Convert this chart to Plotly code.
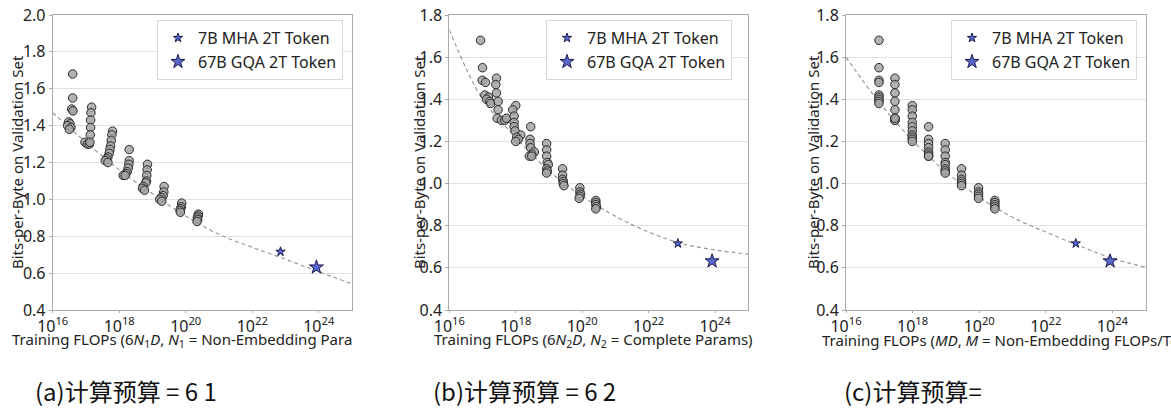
import numpy as np
import plotly.graph_objects as go

W, H = 1171, 412

# ---------------- data ----------------
# Bits-per-byte values of the small-scale runs, grouped by compute budget
bpb_groups = [
    [1.68, 1.55, 1.49, 1.48, 1.42, 1.41, 1.40, 1.39, 1.38],
    [1.50, 1.47, 1.43, 1.39, 1.35, 1.31, 1.30, 1.30, 1.31],
    [1.37, 1.35, 1.32, 1.29, 1.27, 1.25, 1.23, 1.22, 1.21, 1.20],
    [1.27, 1.21, 1.19, 1.17, 1.15, 1.14, 1.13, 1.13],
    [1.19, 1.16, 1.13, 1.10, 1.09, 1.07, 1.06, 1.05],
    [1.07, 1.04, 1.02, 1.01, 1.00, 0.99],
    [0.98, 0.96, 0.95, 0.94, 0.93],
    [0.92, 0.91, 0.90, 0.89, 0.88],
]

# log10 of training FLOPs for each run, panel (a): 6 N1 D
p1_log10_flops = [
    [16.60, 16.60, 16.57, 16.61, 16.48, 16.52, 16.45, 16.55, 16.50],
    [17.17, 17.15, 17.14, 17.14, 17.13, 16.97, 17.04, 17.10, 17.12],
    [17.80, 17.78, 17.76, 17.74, 17.72, 17.70, 17.66, 17.62, 17.58, 17.66],
    [18.30, 18.30, 18.29, 18.27, 18.24, 18.20, 18.12, 18.18],
    [18.85, 18.84, 18.83, 18.82, 18.80, 18.72, 18.70, 18.76],
    [19.35, 19.34, 19.32, 19.26, 19.22, 19.28],
    [19.88, 19.87, 19.85, 19.83, 19.84],
    [20.38, 20.37, 20.35, 20.36, 20.34],
]
# panel (b): 6 N2 D
p2_log10_flops = [
    [16.94, 17.00, 16.99, 17.09, 17.07, 17.18, 17.12, 17.22, 17.25],
    [17.42, 17.40, 17.42, 17.47, 17.47, 17.44, 17.57, 17.67, 17.72],
    [18.00, 17.91, 17.95, 17.95, 17.95, 17.98, 18.15, 18.03, 18.08, 18.00],
    [18.45, 18.43, 18.43, 18.45, 18.56, 18.48, 18.41, 18.48],
    [18.93, 18.93, 18.93, 18.95, 18.98, 18.93, 18.95, 18.93],
    [19.41, 19.41, 19.41, 19.43, 19.43, 19.45],
    [19.93, 19.93, 19.95, 19.93, 19.91],
    [20.41, 20.41, 20.41, 20.43, 20.41],
]
# panel (c): M D  (one budget per group)
p3_log10_flops = [16.99, 17.47, 17.99, 18.48, 18.98, 19.47, 19.98, 20.47]

# fitted scaling curves (read at each decade)
curve_log10_flops = [16, 17, 18, 19, 20, 21, 22, 23, 24, 25]
p1_curve_bpb = [1.47, 1.31, 1.16, 1.03, 0.91, 0.81, 0.74, 0.675, 0.608, 0.541]
p2_curve_bpb = [1.73, 1.40, 1.22, 1.06, 0.94, 0.845, 0.77, 0.715, 0.685, 0.665]
p3_curve_bpb = [1.60, 1.385, 1.205, 1.055, 0.935, 0.84, 0.77, 0.705, 0.645, 0.603]

# large models
star_labels = ["7B MHA 2T Token", "67B GQA 2T Token"]
star_bpb = [0.716, 0.632]
p1_star_log10 = [22.85, 23.93]
p2_star_log10 = [22.88, 23.91]
p3_star_log10 = [22.90, 23.93]

x_tick_exps = [16, 18, 20, 22, 24]

x_titles = [
    "Training FLOPs (6<i>N</i><sub>1</sub><i>D</i>, <i>N</i><sub>1</sub> = Non-Embedding Para",
    "Training FLOPs (6<i>N</i><sub>2</sub><i>D</i>, <i>N</i><sub>2</sub> = Complete Params)",
    "Training FLOPs (<i>MD</i>, <i>M</i> = Non-Embedding FLOPs/To",
]
y_title = "Bits-per-Byte on Validation Set"
captions = ["(a)计算预算 = 6 1", "(b)计算预算 = 6 2", "(c)计算预算="]

# ---------------- layout geometry (pixels) ----------------
panels_px = [(52.7, 352.0), (449.3, 748.3), (846.0, 1145.7)]
plot_top, plot_bottom = 15, 310
y_ranges = [[0.4, 2.0], [0.4, 1.8], [0.4, 1.8]]
legend_right = [343, 732, 1137]
ytitle_x = [17, 419, 813]
xtitle_x = [10, 432, 820]
caption_x = [33, 431, 842]

FONT = "Noto Sans"
fig = go.Figure()

p_x_all = [
    [x for g in p1_log10_flops for x in g],
    [x for g in p2_log10_flops for x in g],
    [p3_log10_flops[i] for i, g in enumerate(bpb_groups) for _ in g],
]
y_all = [y for g in bpb_groups for y in g]
curves = [p1_curve_bpb, p2_curve_bpb, p3_curve_bpb]
stars = [p1_star_log10, p2_star_log10, p3_star_log10]
legend_names = ["legend", "legend2", "legend3"]

for i in range(3):
    xa = "x" if i == 0 else f"x{i+1}"
    ya = "y" if i == 0 else f"y{i+1}"
    fig.add_trace(go.Scatter(
        x=np.power(10.0, np.array(curve_log10_flops, dtype=float)), y=curves[i],
        mode="lines", line=dict(color="#9a9a9a", width=1.2, dash="4px,3px", shape="spline"),
        xaxis=xa, yaxis=ya, showlegend=False, hoverinfo="skip"))
    fig.add_trace(go.Scatter(
        x=np.power(10.0, np.array(p_x_all[i], dtype=float)), y=y_all, mode="markers",
        marker=dict(size=8.5, color="rgba(165,165,165,0.85)",
                    line=dict(color="#2a2a2a", width=1)),
        xaxis=xa, yaxis=ya, showlegend=False))
    for k, (lab, sz) in enumerate(zip(star_labels, [7, 10.5])):
        fig.add_trace(go.Scatter(
            x=[float(10.0 ** stars[i][k])], y=[star_bpb[k]], mode="markers", name=lab,
            marker=dict(symbol="star", size=sz, color="rgba(70,85,200,0.9)",
                        line=dict(color="#1c1c50", width=1)),
            xaxis=xa, yaxis=ya, legend=legend_names[i], showlegend=True))

layout = dict(
    width=W, height=H, margin=dict(l=0, r=0, t=0, b=0, autoexpand=False),
    paper_bgcolor="white", plot_bgcolor="white",
    font=dict(family=FONT, size=14, color="#222222"),
    annotations=[], showlegend=True,
)

for i in range(3):
    x0, x1 = panels_px[i]
    xk = "xaxis" if i == 0 else f"xaxis{i+1}"
    yk = "yaxis" if i == 0 else f"yaxis{i+1}"
    ya = "y" if i == 0 else f"y{i+1}"
    xa = "x" if i == 0 else f"x{i+1}"
    layout[xk] = dict(
        type="log", range=[16, 25], domain=[x0 / W, x1 / W], anchor=ya,
        automargin=False,
        tickvals=[float(10.0 ** e) for e in x_tick_exps],
        ticktext=[f"10<sup>{e}</sup>" for e in x_tick_exps],
        showgrid=False, zeroline=False, showline=True, mirror=True,
        linecolor="#aaaaaa", linewidth=1, ticks="outside", ticklen=2,
        tickcolor="#aaaaaa", tickfont=dict(family=FONT, size=16, color="#222222"))
    yr = y_ranges[i]
    layout[yk] = dict(
        range=yr, domain=[1 - plot_bottom / H, 1 - plot_top / H], anchor=xa,
        automargin=False,
        tickvals=[float(round(v, 1)) for v in np.arange(yr[0], yr[1] + 0.01, 0.2)],
        tickformat=".1f", showgrid=True, gridcolor="#e0e0e0", gridwidth=1,
        zeroline=False, showline=True, mirror=True, linecolor="#aaaaaa",
        linewidth=1, ticks="outside", ticklen=3, tickcolor="#aaaaaa",
        tickfont=dict(family=FONT, size=16, color="#222222"))
    layout[legend_names[i]] = dict(
        x=legend_right[i] / W, y=1 - 20 / H, xanchor="right", yanchor="top",
        bgcolor="white", bordercolor="#d8d8d8", borderwidth=1,
        font=dict(family=FONT, size=16, color="#222222"), itemsizing="trace",
        tracegroupgap=0)
    layout["annotations"].append(dict(
        text=y_title, x=ytitle_x[i] / W, y=1 - 162 / H, xref="paper", yref="paper",
        textangle=-90, showarrow=False, xanchor="center", yanchor="middle",
        font=dict(family=FONT, size=15, color="#222222")))
    layout["annotations"].append(dict(
        text=x_titles[i], x=xtitle_x[i] / W, y=1 - 340 / H, xref="paper", yref="paper",
        showarrow=False, xanchor="left", yanchor="middle",
        font=dict(family=FONT, size=15, color="#222222")))
    layout["annotations"].append(dict(
        text=captions[i], x=caption_x[i] / W, y=1 - 390 / H, xref="paper", yref="paper",
        showarrow=False, xanchor="left", yanchor="middle",
        font=dict(family="Noto Sans CJK SC", size=24, color="#111111")))

fig.update_layout(**layout)
fig.write_html("out.html")
